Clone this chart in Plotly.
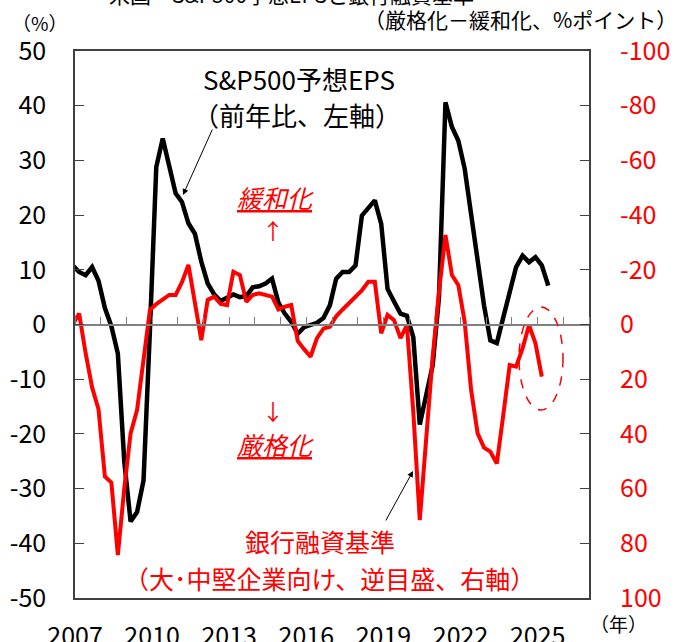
import plotly.graph_objects as go
import pandas as pd

# S&P500 forward EPS, YoY % (left axis), quarterly from 2006Q4
eps_dates = pd.date_range("2006-12-01", periods=75, freq="3MS")
eps = [10.8, 9.6, 9.0, 10.5, 8.0, 3.0, -0.3, -5.3, -25.0, -36.0,
       -34.3, -28.5, -1.0, 28.8, 34.0, 28.8, 24.0, 22.4, 18.5, 16.6,
       11.5, 7.5, 5.5, 4.3, 5.0, 5.5, 5.0, 5.2, 6.8, 7.0,
       7.5, 8.4, 4.0, 2.0, 0.5, -1.7, -0.5, -0.2, 0.3, 1.2,
       3.5, 8.4, 9.6, 9.6, 10.8, 19.9, 21.2, 22.7, 18.4, 6.5,
       4.2, 2.0, 1.6, -2.3, -18.3, -13.0, -7.5, 5.0, 40.6, 36.1,
       33.6, 28.5, 20.5, 11.5, 3.5, -2.9, -3.4, 1.3, 5.8, 10.5,
       12.6, 11.4, 12.3, 10.8, 7.1]

# bank lending standards (large & middle-market firms), %pt, right axis reversed
loan_dates = pd.date_range("2006-12-01", periods=74, freq="3MS")
loan = [0.0, -4.0, 10.5, 23.0, 31.0, 55.6, 57.8, 84.3, 60.0, 39.8,
        31.3, 13.0, -5.3, -7.5, -9.0, -10.8, -10.8, -15.5, -21.8, -8.0,
        5.7, -9.0, -10.2, -7.5, -7.1, -19.3, -18.1, -8.3, -10.8, -11.4,
        -10.8, -10.2, -5.5, -6.5, -7.1, 6.0, 9.0, 11.8, 5.0, 1.5,
        0.8, -3.0, -5.5, -8.0, -10.0, -12.5, -15.6, -15.6, 3.2, -3.5,
        -1.6, 5.0, 0.2, 32.0, 71.5, 40.8, 11.9, -12.0, -32.7, -18.1,
        -14.4, -1.0, 24.0, 39.8, 45.0, 46.5, 50.8, 33.0, 14.8, 15.4,
        8.7, 0.2, 6.9, 19.1]

left_ticks = [-50, -40, -30, -20, -10, 0, 10, 20, 30, 40, 50]
left_labels = ["-50", "-40", "-30", "-20", "-10", "0", "10", "20", "30", "40", "50"]
right_ticks = [-100, -80, -60, -40, -20, 0, 20, 40, 60, 80, 100]
right_labels = ["-100", "-80", "-60", "-40", "-20", "0", "20", "40", "60", "80", "100"]
year_ticks = ["2007-01-01", "2010-01-01", "2013-01-01", "2016-01-01",
              "2019-01-01", "2022-01-01", "2025-01-01"]
year_labels = ["2007", "2010", "2013", "2016", "2019", "2022", "2025"]

FONT = "Noto Sans CJK JP"
RED = "#FF0000"
L, R, T, B = 75, 589, 51, 598


def pp(x, y):
  """pixel -> paper coords"""
  return (x - L) / (R - L), (B - y) / (B - T)


fig = go.Figure()
fig.add_trace(go.Scatter(x=eps_dates, y=eps, mode="lines", yaxis="y",
                         line=dict(color="black", width=4.5), hoverinfo="skip"))
fig.add_trace(go.Scatter(x=loan_dates, y=loan, mode="lines", yaxis="y2",
                         line=dict(color=RED, width=4), hoverinfo="skip"))
# invisible trace so the zero-line axis gets drawn
fig.add_trace(go.Scatter(x=[eps_dates[1]], y=[0], mode="markers", xaxis="x2",
                         marker=dict(opacity=0), hoverinfo="skip"))

xrange = ["2007-01-01", "2027-01-01"]
fig.update_layout(
    width=680, height=642,
    margin=dict(l=L, r=680 - R, t=T, b=642 - B),
    plot_bgcolor="white", paper_bgcolor="white",
    showlegend=False,
    font=dict(family=FONT, color="black"),
    xaxis=dict(range=xrange, showgrid=False, zeroline=False, automargin=False,
               showline=True, mirror=True, linecolor="#404040", linewidth=1.5,
               ticks="", tickvals=year_ticks, ticktext=year_labels,
               tickfont=dict(size=25), ticklabelstandoff=15),
    xaxis2=dict(range=xrange, overlaying="x", anchor="free", position=0.5,
                side="top", showgrid=False, zeroline=False, automargin=False,
                showline=True, linecolor="#808080", linewidth=1.5,
                ticks="outside", ticklen=7, tickcolor="#808080",
                tick0="2007-01-01", dtick="M12", showticklabels=False),
    yaxis=dict(range=[-50, 50], showgrid=False, zeroline=False, automargin=False,
               showline=True, mirror=True, linecolor="#404040", linewidth=1.5,
               ticks="inside", ticklen=9, tickcolor="#404040",
               tickvals=left_ticks, ticktext=left_labels,
               tickfont=dict(size=25), ticklabelstandoff=22),
    yaxis2=dict(range=[100, -100], overlaying="y", side="right", automargin=False,
                showgrid=False, zeroline=False, showline=False,
                ticks="inside", ticklen=9, tickcolor="#404040",
                tickvals=right_ticks, ticktext=right_labels,
                tickfont=dict(size=25, color=RED), ticklabelstandoff=30),
)


def label(text, x, y, size=25, color="black", **kw):
  px_, py_ = pp(x, y)
  fig.add_annotation(text=text, x=px_, y=py_, xref="paper", yref="paper",
                     showarrow=False, xanchor="center", yanchor="middle",
                     font=dict(size=size, color=color, family=FONT), **kw)


label("米国　S&P500予想EPSと銀行融資基準", 291, -6, size=21)
label("（%）", 40, 22, size=19)
label("（厳格化－緩和化、%ポイント）", 520, 19, size=21)
label("（年）", 618, 623, size=19)

label("S&P500予想EPS", 299, 78, size=26)
label("（前年比、左軸）", 297, 115, size=26)
label("<u><i>緩和化</i></u>", 275, 197, color=RED)
label("↑", 273, 229, size=22, color=RED)
label("↓", 273, 410, size=22, color=RED)
label("<u><i>厳格化</i></u>", 275, 444, color=RED)
label("銀行融資基準", 320, 541, color=RED)
label("（大･中堅企業向け、逆目盛、右軸）", 329, 578, color=RED)

# pointer arrows
for (hx, hy), (tx, ty) in [((183, 195), (213, 128)), ((413, 471), (385, 522))]:
  ax_, ay_ = pp(hx, hy)
  fig.add_annotation(text="", x=ax_, y=ay_, xref="paper", yref="paper",
                     showarrow=True, ax=tx - hx, ay=ty - hy,
                     arrowhead=2, arrowsize=1.2, arrowwidth=1, arrowcolor="black")

# dashed ellipse around latest readings
x0, y0 = pp(519, 410)
x1, y1 = pp(563, 307)
fig.add_shape(type="circle", xref="paper", yref="paper",
              x0=x0, y0=y0, x1=x1, y1=y1,
              line=dict(color=RED, width=1.5, dash="dash"))

# page body has a default 8px margin; drop it so the figure sits at 0,0
fig.write_html("out.html", config={"displayModeBar": False},
               post_script="document.body.style.margin='0';")
